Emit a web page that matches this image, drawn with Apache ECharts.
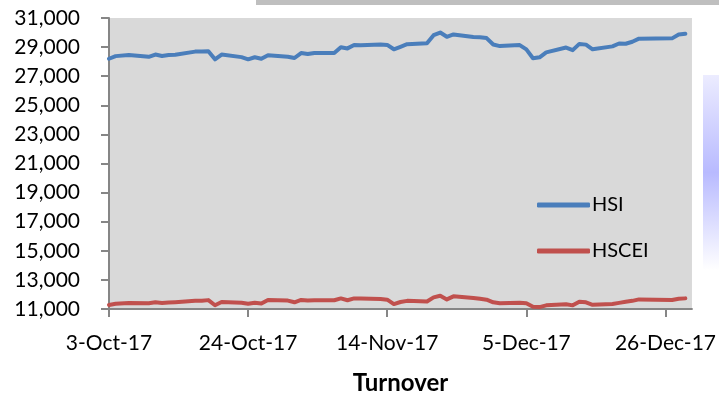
<!DOCTYPE html>
<html>
<head>
<meta charset="utf-8">
<script src="https://cdn.jsdelivr.net/npm/echarts@6/dist/echarts.min.js"></script>
<style>
  html, body { margin: 0; padding: 0; background: #fff; }
  #chart { width: 719px; height: 400px; }
</style>
</head>
<body>
<div id="chart"></div>
<script>
// trading days, Oct - Dec 2017
const tradeDates = [
  '2017-10-03', '2017-10-04', '2017-10-06', '2017-10-09', '2017-10-10', '2017-10-11', '2017-10-12', '2017-10-13',
  '2017-10-16', '2017-10-17', '2017-10-18', '2017-10-19', '2017-10-20', '2017-10-23', '2017-10-24', '2017-10-25',
  '2017-10-26', '2017-10-27', '2017-10-30', '2017-10-31', '2017-11-01', '2017-11-02', '2017-11-03', '2017-11-06',
  '2017-11-07', '2017-11-08', '2017-11-09', '2017-11-10', '2017-11-13', '2017-11-14', '2017-11-15', '2017-11-16',
  '2017-11-17', '2017-11-20', '2017-11-21', '2017-11-22', '2017-11-23', '2017-11-24', '2017-11-27', '2017-11-28',
  '2017-11-29', '2017-11-30', '2017-12-01', '2017-12-04', '2017-12-05', '2017-12-06', '2017-12-07', '2017-12-08',
  '2017-12-11', '2017-12-12', '2017-12-13', '2017-12-14', '2017-12-15', '2017-12-18', '2017-12-19', '2017-12-20',
  '2017-12-21', '2017-12-22', '2017-12-27', '2017-12-28', '2017-12-29'
];

const hsi = [
  28200, 28380, 28460, 28330, 28490, 28390, 28460, 28480,
  28690, 28700, 28720, 28160, 28490, 28310, 28160, 28300,
  28200, 28440, 28340, 28250, 28590, 28520, 28600, 28600,
  28990, 28910, 29140, 29120, 29180, 29150, 28850, 29020,
  29200, 29260, 29820, 30000, 29710, 29870, 29690, 29680,
  29620, 29180, 29070, 29140, 28840, 28230, 28300, 28640,
  28970, 28790, 29220, 29170, 28850, 29050, 29250, 29230,
  29370, 29580, 29600, 29860, 29920
];

const hscei = [
  11280, 11360, 11420, 11400, 11460, 11420, 11450, 11470,
  11560, 11560, 11610, 11260, 11480, 11430, 11360, 11430,
  11380, 11620, 11580, 11460, 11620, 11580, 11600, 11600,
  11730, 11600, 11730, 11720, 11680, 11640, 11340, 11480,
  11560, 11520, 11800, 11910, 11660, 11870, 11760, 11700,
  11640, 11460, 11400, 11430, 11400, 11160, 11130, 11250,
  11330, 11250, 11500, 11460, 11290, 11350, 11420, 11500,
  11560, 11660, 11620, 11700, 11730
];

const seriesNames = ['HSI', 'HSCEI'];
const xTickDays = [0, 21, 42, 63, 84];   // 3-Oct, 24-Oct, 14-Nov, 5-Dec, 26-Dec
const yTicks = [11000, 13000, 15000, 17000, 19000, 21000, 23000, 25000, 27000, 29000, 31000];

const startMs = Date.UTC(2017, 9, 3);
const DAY = 86400000;
const months = ['Jan', 'Feb', 'Mar', 'Apr', 'May', 'Jun', 'Jul', 'Aug', 'Sep', 'Oct', 'Nov', 'Dec'];

function dayOffset(s) {
  const p = s.split('-');
  return Math.round((Date.UTC(+p[0], +p[1] - 1, +p[2]) - startMs) / DAY);
}
function dayLabel(v) {
  const d = new Date(startMs + v * DAY);
  return d.getUTCDate() + '-' + months[d.getUTCMonth()] + '-' + String(d.getUTCFullYear()).slice(2);
}

const days = tradeDates.map(dayOffset);
const hsiData = days.map((d, i) => [d, hsi[i]]);
const hsceiData = days.map((d, i) => [d, hscei[i]]);

const font = 'Lato, "Open Sans", sans-serif';

let myChart = echarts.init(document.getElementById('chart'));
let option = {
  backgroundColor: '#ffffff',
  animation: false,
  textStyle: { fontFamily: font },
  graphic: [
    { type: 'rect', shape: { x: 256, y: 0, width: 463, height: 5 }, style: { fill: '#bfbfbf' }, silent: true },
    {
      type: 'rect', shape: { x: 703, y: 75, width: 16, height: 195 }, silent: true,
      style: {
        fill: new echarts.graphic.LinearGradient(0, 0, 0, 1, [
          { offset: 0, color: '#ececff' },
          { offset: 0.5, color: '#b8baff' },
          { offset: 1, color: '#ffffff' }
        ])
      }
    }
  ],
  grid: {
    left: 109,
    right: 27,
    top: 18,
    bottom: 83,
    show: true,
    backgroundColor: '#d9d9d9',
    borderWidth: 0
  },
  legend: {
    data: seriesNames,
    orient: 'vertical',
    left: 532,
    top: 190,
    itemWidth: 53,
    itemHeight: 5,
    itemGap: 26,
    icon: 'roundRect',
    textStyle: { fontFamily: font, fontSize: 20, color: '#000', padding: [0, 0, 0, -3] }
  },
  xAxis: {
    type: 'value',
    min: 0,
    max: 88,
    interval: 21,
    name: 'Turnover',
    nameLocation: 'middle',
    nameGap: 62,
    nameTextStyle: { fontFamily: font, fontSize: 24, fontWeight: 'bold', color: '#000' },
    axisLine: { show: true, lineStyle: { color: '#868686', width: 2 } },
    axisTick: { show: true, length: 8, lineStyle: { color: '#868686', width: 2 }, customValues: xTickDays },
    axisLabel: {
      margin: 24, fontSize: 21, color: '#000', fontFamily: font,
      customValues: xTickDays,
      formatter: (v) => dayLabel(v)
    },
    splitLine: { show: false }
  },
  yAxis: {
    type: 'value',
    min: yTicks[0],
    max: yTicks[yTicks.length - 1],
    interval: 2000,
    axisLine: { show: true, lineStyle: { color: '#868686', width: 2 } },
    axisTick: { show: true, length: 8, lineStyle: { color: '#868686', width: 2 } },
    axisLabel: {
      margin: 29, fontSize: 21, color: '#000', fontFamily: font,
      formatter: (v) => v.toLocaleString('en-US')
    },
    splitLine: { show: false }
  },
  series: [
    {
      name: seriesNames[0],
      type: 'line',
      data: hsiData,
      showSymbol: false,
      color: '#4a7ebb',
      lineStyle: { width: 4, color: '#4a7ebb', join: 'round', cap: 'round' }
    },
    {
      name: seriesNames[1],
      type: 'line',
      data: hsceiData,
      showSymbol: false,
      color: '#c0504d',
      lineStyle: { width: 4, color: '#c0504d', join: 'round', cap: 'round' }
    }
  ]
};
myChart.setOption(option);
</script>
</body>
</html>
